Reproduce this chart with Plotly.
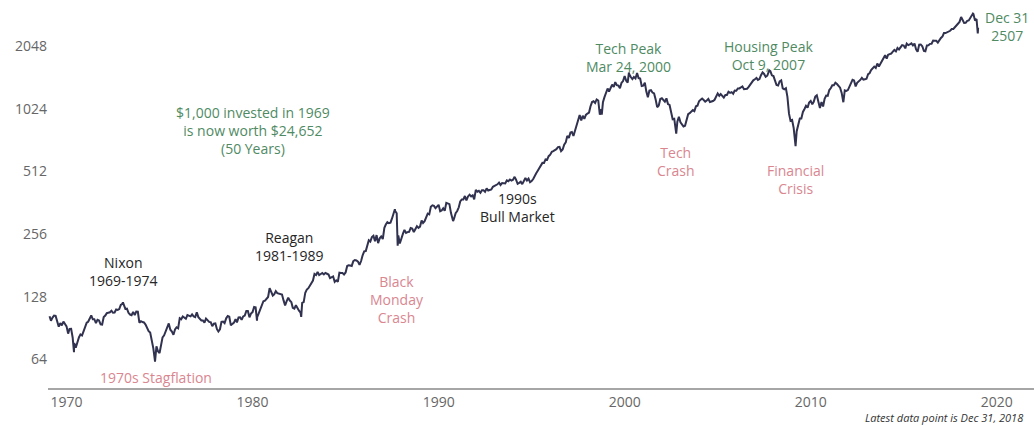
import pandas as pd
import plotly.graph_objects as go

# S&P 500 month-end closes, Jan 1969 .. Dec 2018 (12 values per row = one year)
sp500_month_end = [
    103.0, 98.1, 101.5, 103.7, 103.5, 97.7, 91.8, 95.5, 93.1, 97.2, 94.0, 92.1,        # 1969
    85.0, 89.5, 89.6, 81.5, 76.6, 72.7, 78.1, 81.5, 84.3, 83.3, 87.2, 92.2,            # 1970
    95.9, 97.0, 100.3, 103.9, 99.6, 99.7, 95.6, 99.0, 98.3, 94.2, 94.0, 102.1,         # 1971
    103.9, 106.6, 107.2, 107.7, 109.5, 107.1, 107.4, 111.1, 110.6, 111.6, 116.7, 118.1,  # 1972
    116.0, 111.7, 112.0, 107.0, 105.0, 104.3, 108.2, 104.3, 108.4, 108.3, 96.0, 97.6,  # 1973
    96.6, 96.2, 94.0, 90.3, 87.3, 86.0, 79.3, 72.2, 63.5, 73.9, 70.0, 68.6,            # 1974
    77.0, 81.6, 83.4, 87.3, 91.2, 95.2, 88.8, 86.9, 83.9, 89.0, 91.2, 90.2,            # 1975
    100.9, 99.7, 102.8, 101.6, 100.2, 104.3, 103.4, 102.9, 105.2, 102.9, 102.1, 107.5, # 1976
    102.0, 99.8, 98.4, 98.4, 96.1, 100.5, 98.9, 96.8, 96.5, 92.3, 94.8, 95.1,          # 1977
    89.3, 87.0, 89.2, 96.8, 97.2, 95.5, 100.7, 103.3, 102.5, 93.2, 94.7, 96.1,         # 1978
    99.9, 96.3, 101.6, 101.8, 99.1, 102.9, 103.8, 109.3, 109.3, 101.8, 106.2, 107.9,   # 1979
    114.2, 113.7, 102.1, 106.3, 111.2, 114.2, 121.7, 122.4, 125.5, 127.5, 140.5, 135.8,  # 1980
    129.6, 131.3, 136.0, 133.0, 132.6, 131.2, 130.9, 122.8, 116.2, 121.9, 126.4, 122.6,  # 1981
    120.4, 113.1, 112.0, 116.4, 111.9, 109.6, 107.1, 119.5, 120.4, 133.7, 138.5, 140.6,  # 1982
    145.3, 148.1, 153.0, 164.4, 162.4, 168.1, 162.6, 164.4, 166.1, 163.6, 166.4, 164.9,  # 1983
    163.4, 157.1, 159.2, 160.1, 150.6, 153.2, 150.7, 166.7, 166.1, 166.1, 163.6, 167.2,  # 1984
    179.6, 181.2, 180.7, 179.8, 189.6, 191.9, 190.9, 188.6, 182.1, 189.8, 202.2, 211.3,  # 1985
    211.8, 226.9, 238.9, 235.5, 247.4, 250.8, 236.1, 252.9, 231.3, 244.0, 249.2, 242.2,  # 1986
    274.1, 284.2, 291.7, 288.4, 290.1, 304.0, 318.7, 329.8, 321.8, 251.8, 230.3, 247.1,  # 1987
    257.1, 267.8, 258.9, 261.3, 262.2, 273.5, 272.0, 261.5, 271.9, 279.0, 273.7, 277.7,  # 1988
    297.5, 288.9, 294.9, 309.6, 320.5, 318.0, 346.1, 351.5, 349.2, 340.4, 346.0, 353.4,  # 1989
    329.1, 331.9, 339.9, 330.8, 361.2, 358.0, 356.2, 322.6, 306.1, 304.0, 322.2, 330.2,  # 1990
    343.9, 367.1, 375.2, 375.3, 389.8, 371.2, 387.8, 395.4, 387.9, 392.5, 375.2, 417.1,  # 1991
    408.8, 412.7, 403.7, 415.0, 415.4, 408.1, 424.2, 414.0, 417.8, 418.7, 431.4, 435.7,  # 1992
    438.8, 443.4, 451.7, 440.2, 450.2, 450.5, 448.1, 463.6, 458.9, 467.8, 461.8, 466.5,  # 1993
    481.6, 467.1, 445.8, 450.9, 456.5, 444.3, 458.3, 475.5, 462.7, 472.4, 453.7, 459.3,  # 1994
    470.4, 487.4, 500.7, 514.7, 533.4, 544.8, 562.1, 561.9, 584.4, 581.5, 605.4, 615.9,  # 1995
    636.0, 640.4, 645.5, 654.2, 669.1, 670.6, 640.0, 652.0, 687.3, 705.3, 757.0, 740.7,  # 1996
    786.2, 790.8, 757.1, 801.3, 848.3, 885.1, 954.3, 899.5, 947.3, 914.6, 955.4, 970.4,  # 1997
    980.3, 1049.3, 1101.8, 1111.8, 1090.8, 1133.8, 1120.7, 957.3, 1017.0, 1098.7, 1163.6, 1229.2,  # 1998
    1279.6, 1238.3, 1286.4, 1335.2, 1301.8, 1372.7, 1328.7, 1320.4, 1282.7, 1362.9, 1388.9, 1469.3,  # 1999
    1394.5, 1366.4, 1498.6, 1452.4, 1420.6, 1454.6, 1430.8, 1517.7, 1436.5, 1429.4, 1315.2, 1320.3,  # 2000
    1366.0, 1239.9, 1160.3, 1249.5, 1255.8, 1224.4, 1211.2, 1133.6, 1040.9, 1059.8, 1139.5, 1148.1,  # 2001
    1130.2, 1106.7, 1147.4, 1076.9, 1067.1, 989.8, 911.6, 916.1, 815.3, 885.8, 936.3, 879.8,  # 2002
    855.7, 841.2, 848.2, 916.9, 963.6, 974.5, 990.3, 1008.0, 996.0, 1050.7, 1058.2, 1111.9,  # 2003
    1131.1, 1144.9, 1126.2, 1107.3, 1120.7, 1140.8, 1101.7, 1104.2, 1114.6, 1130.2, 1173.8, 1211.9,  # 2004
    1181.3, 1203.6, 1180.6, 1156.9, 1191.5, 1191.3, 1234.2, 1220.3, 1228.8, 1207.0, 1249.5, 1248.3,  # 2005
    1280.1, 1280.7, 1294.9, 1310.6, 1270.1, 1270.2, 1276.7, 1303.8, 1335.9, 1377.9, 1400.6, 1418.3,  # 2006
    1438.2, 1406.8, 1420.9, 1482.4, 1530.6, 1503.4, 1455.3, 1474.0, 1526.8, 1549.4, 1481.1, 1468.4,  # 2007
    1378.6, 1330.6, 1322.7, 1385.6, 1400.4, 1280.0, 1267.4, 1282.8, 1166.4, 968.8, 896.2, 903.3,  # 2008
    825.9, 735.1, 797.9, 872.8, 919.1, 919.3, 987.5, 1020.6, 1057.1, 1036.2, 1095.6, 1115.1,  # 2009
    1073.9, 1104.5, 1169.4, 1186.7, 1089.4, 1030.7, 1101.6, 1049.3, 1141.2, 1183.3, 1180.6, 1257.6,  # 2010
    1286.1, 1327.2, 1325.8, 1363.6, 1345.2, 1320.6, 1292.3, 1218.9, 1131.4, 1253.3, 1247.0, 1257.6,  # 2011
    1312.4, 1365.7, 1408.5, 1397.9, 1310.3, 1362.2, 1379.3, 1406.6, 1440.7, 1412.2, 1416.2, 1426.2,  # 2012
    1498.1, 1514.7, 1569.2, 1597.6, 1630.7, 1606.3, 1685.7, 1633.0, 1681.6, 1756.5, 1805.8, 1848.4,  # 2013
    1782.6, 1859.5, 1872.3, 1884.0, 1923.6, 1960.2, 1930.7, 2003.4, 1972.3, 2018.1, 2067.6, 2058.9,  # 2014
    1995.0, 2104.5, 2067.9, 2085.5, 2107.4, 2063.1, 2103.8, 1972.2, 1920.0, 2079.4, 2080.4, 2043.9,  # 2015
    1940.2, 1932.2, 2059.7, 2065.3, 2097.0, 2098.9, 2173.6, 2171.0, 2168.3, 2126.2, 2199.0, 2238.8,  # 2016
    2278.9, 2363.6, 2362.7, 2384.2, 2411.8, 2423.4, 2470.3, 2471.7, 2519.4, 2575.3, 2647.6, 2673.6,  # 2017
    2823.8, 2713.8, 2640.9, 2648.1, 2705.3, 2718.4, 2816.3, 2901.5, 2914.0, 2711.7, 2760.2, 2506.85,  # 2018
]

# Notable intra-month extremes shown by the line
event_dates = ["1970-05-26", "1973-01-11", "1974-10-03", "1980-03-27", "1982-08-12",
               "1987-08-25", "1987-10-19", "1990-10-11", "1998-10-08", "2000-03-24",
               "2002-10-09", "2007-10-09", "2009-03-09", "2011-10-03", "2018-09-20",
               "2018-12-24"]
event_values = [69.3, 120.2, 62.3, 98.2, 102.4,
                336.8, 224.8, 295.5, 959.4, 1527.5,
                776.8, 1565.2, 676.5, 1099.2, 2930.8,
                2351.1]

year_ticks = [1970, 1980, 1990, 2000, 2010, 2020]
value_ticks = [64, 128, 256, 512, 1024, 2048]

month_dates = pd.date_range("1969-01-31", periods=len(sp500_month_end), freq="ME")
series = pd.concat([
    pd.Series(sp500_month_end, index=month_dates),
    pd.Series(event_values, index=pd.to_datetime(event_dates)),
]).sort_index()

FONT = "Open Sans"
GREEN = "#4f8a63"
PINK = "#d98690"
DARK = "#262626"
LINE = "#30324f"

fig = go.Figure()
fig.add_trace(go.Scatter(x=series.index, y=series.values, mode="lines",
                         line=dict(color=LINE, width=2), hoverinfo="skip",
                         showlegend=False))

W, H = 1034, 426
ML, MR, MT, MB = 48, 0, 0, 38
PW, PH = W - ML - MR, H - MT - MB


def px(x, y):
    return (x - ML) / PW, (H - MB - y) / PH


annotations = []


def label(lines, cx, cy, color, size=14):
    xp, yp = px(cx, cy)
    annotations.append(dict(x=xp, y=yp, xref="paper", yref="paper",
                            text="<br>".join(lines), align="center",
                            showarrow=False, xanchor="center", yanchor="middle",
                            font=dict(family=FONT, size=size, color=color)))


label(["$1,000 invested in 1969", "is now worth $24,652", "(50 Years)"], 252.5, 130.5, GREEN)
label(["Nixon", "1969-1974"], 123, 271, DARK)
label(["1970s Stagflation"], 155.5, 377.5, PINK)
label(["Reagan", "1981-1989"], 289, 247, DARK)
label(["Black", "Monday", "Crash"], 397, 299, PINK)
label(["1990s", "Bull Market"], 517.5, 207.5, DARK)
label(["Tech Peak", "Mar 24, 2000"], 628.5, 57, GREEN)
label(["Tech", "Crash"], 675.5, 161, PINK)
label(["Housing Peak", "Oct 9, 2007"], 768.5, 55, GREEN)
label(["Financial", "Crisis"], 795, 179, PINK)
label(["Dec 31", "2507"], 1007, 27, GREEN)

xp, yp = px(1025, 417.5)
annotations.append(dict(x=xp, y=yp, xref="paper", yref="paper",
                        text="<i>Latest data point is Dec 31, 2018</i>",
                        showarrow=False, xanchor="right", yanchor="middle",
                        font=dict(family=FONT, size=11, color="#333333")))

fig.update_layout(
    width=W, height=H,
    margin=dict(l=ML, r=MR, t=MT, b=MB, pad=0),
    paper_bgcolor="white", plot_bgcolor="white",
    font=dict(family=FONT),
    annotations=annotations,
    xaxis=dict(type="date", range=["1969-01-01", "2022-01-01"],
               tickvals=[f"{y}-01-01" for y in year_ticks],
               ticktext=[str(y) for y in year_ticks],
               showgrid=False, zeroline=False, showline=True,
               linecolor="#a6a6a6", linewidth=1.5, ticks="",
               tickfont=dict(family=FONT, size=14, color="#666666")),
    yaxis=dict(type="log", range=[1.6683, 3.5323],
               tickvals=value_ticks, ticktext=[str(v) for v in value_ticks],
               showgrid=False, zeroline=False, showline=False, ticks="",
               tickfont=dict(family=FONT, size=14, color="#666666")),
)

fig.write_html("out.html")
